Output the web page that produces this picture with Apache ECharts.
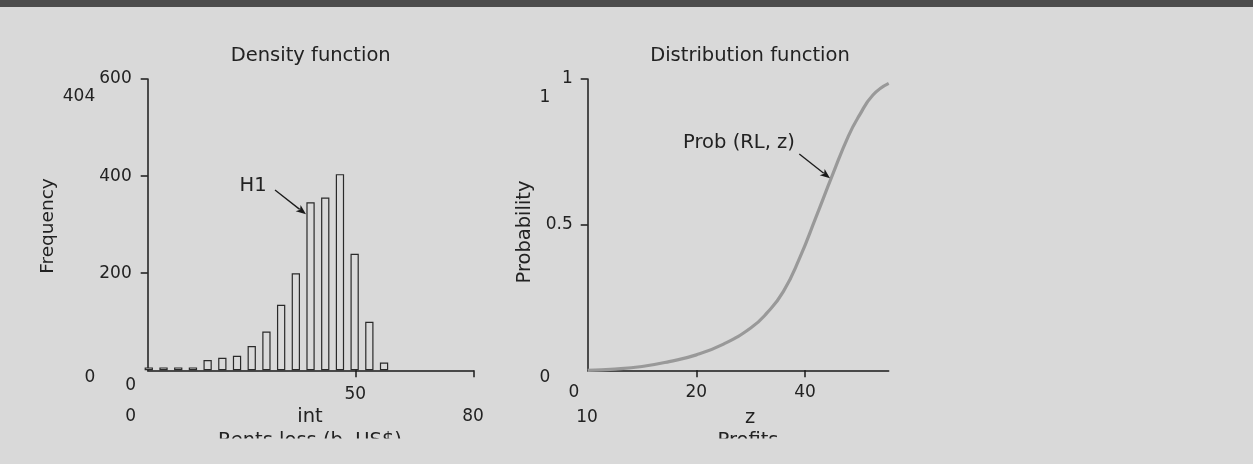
<!DOCTYPE html>
<html>
<head>
<meta charset="utf-8">
<script src="https://cdn.jsdelivr.net/npm/echarts@6/dist/echarts.min.js"></script>
<style>
html,body{margin:0;padding:0;background:#d9d9d9;}
#chart{width:1253px;height:464px;}
</style>
</head>
<body>
<div id="chart"></div>
<script>
// ---- data ----
var binCenters = [0.26, 3.81, 7.35, 10.89, 14.43, 17.97, 21.51, 25.05, 28.59, 32.13, 35.67, 39.21, 42.75, 46.29, 49.83, 53.37, 56.91];
var frequencies = [6, 6, 6, 6, 21, 26, 30, 50, 80, 135, 200, 346, 356, 404, 240, 100, 16];
var freqTicks = [200, 400, 600];
var rentsTicks = [50];
var profitZ = [0, 5, 10, 15, 20, 25, 30, 33, 36, 39, 42, 45, 48, 50, 52.5, 55.4];
var probValues = [0, 0.004, 0.013, 0.030, 0.053, 0.090, 0.145, 0.197, 0.270, 0.385, 0.525, 0.668, 0.805, 0.875, 0.945, 0.985];
var probTicks = [0.5, 1];
var profitTicks = [20, 40];

var FONT = '"DejaVu Sans", sans-serif';
var TXT = '#222222';
var AX = '#1a1a1a';
var FW = 19.5;   // words
var FN = 17;     // numbers

var chart = echarts.init(document.getElementById('chart'), null, {renderer: 'canvas'});

function t(x, y, s, opts) {
  opts = opts || {};
  var fs = opts.fs || (/^[0-9.]+$/.test(s) ? FN : FW);
  return {
    type: 'text', x: x, y: y, rotation: opts.rot || 0, z: 10,
    style: {text: s, fill: TXT, font: fs + 'px ' + FONT,
      align: opts.align || 'center', verticalAlign: 'middle'}
  };
}
function arrow(x1, y1, x2, y2) {
  var dx = x2 - x1, dy = y2 - y1, L = Math.sqrt(dx*dx + dy*dy);
  var ux = dx / L, uy = dy / L, hl = 10, hw = 4;
  var bx = x2 - ux * hl, by = y2 - uy * hl;
  return [
    {type: 'line', z: 10, shape: {x1: x1, y1: y1, x2: bx + ux*2, y2: by + uy*2}, style: {stroke: '#1a1a1a', lineWidth: 1.3}},
    {type: 'polygon', z: 10, shape: {points: [[x2, y2], [bx - uy*hw, by + ux*hw], [bx + ux*2.5, by + uy*2.5], [bx + uy*hw, by - ux*hw]]}, style: {fill: '#1a1a1a'}}
  ];
}

var axisLine = {show: true, lineStyle: {color: AX, width: 1.5}};
var labelStyle = {color: TXT, fontSize: FN, fontFamily: FONT};

var graphics = [
  {type: 'rect', z: 10, shape: {x: 0, y: 0, width: 1253, height: 7}, style: {fill: '#4d4d4d'}},
  t(310.7, 56, 'Density function'),
  t(79, 97, '404'),
  t(253, 186, 'H1'),
  t(48, 226, 'Frequency', {rot: Math.PI / 2, fs: 18.5}),
  t(90, 378, '0'),
  t(130.7, 386, '0'),
  t(130.7, 417, '0'),
  t(310, 417, 'int'),
  t(473, 417, '80'),
  t(310, 441, 'Rents loss (b. US$)'),
  t(750, 56, 'Distribution function'),
  t(545, 98, '1'),
  t(739, 143, 'Prob (RL, z)'),
  t(525, 232, 'Probability', {rot: Math.PI / 2}),
  t(545, 378, '0'),
  t(574, 393, '0'),
  t(587, 418, '10'),
  t(750, 418, 'z'),
  t(748, 441, 'Profits'),
  {type: 'rect', z: 20, shape: {x: 0, y: 438.5, width: 1253, height: 30}, style: {fill: '#d9d9d9'}}
].concat(arrow(275, 190, 306, 214.3)).concat(arrow(799.3, 154, 830, 178.3));

chart.setOption({
  backgroundColor: '#d9d9d9',
  animation: false,
  grid: [
    {left: 147.7, top: 79, width: 325.6, height: 291.3},
    {left: 587.7, top: 79, width: 301, height: 291.3}
  ],
  xAxis: [
    {type: 'value', gridIndex: 0, min: 0, max: 78.4,
      axisLine: axisLine, splitLine: {show: false},
      axisTick: {show: true, length: 7, customValues: rentsTicks.concat([78.4]), lineStyle: {color: AX, width: 1.5}},
      axisLabel: Object.assign({customValues: rentsTicks, margin: 16}, labelStyle)},
    {type: 'value', gridIndex: 1, min: 0, max: 55.4,
      axisLine: axisLine, splitLine: {show: false},
      axisTick: {show: true, length: 7, customValues: profitTicks, lineStyle: {color: AX, width: 1.5}},
      axisLabel: Object.assign({customValues: profitTicks, margin: 14}, labelStyle)}
  ],
  yAxis: [
    {type: 'value', gridIndex: 0, min: 0, max: 600,
      axisLine: axisLine, splitLine: {show: false},
      axisTick: {show: true, length: 7, customValues: freqTicks, lineStyle: {color: AX, width: 1.5}},
      axisLabel: Object.assign({customValues: freqTicks, margin: 16}, labelStyle)},
    {type: 'value', gridIndex: 1, min: 0, max: 1,
      axisLine: axisLine, splitLine: {show: false},
      axisTick: {show: true, length: 7, customValues: probTicks, lineStyle: {color: AX, width: 1.5}},
      axisLabel: Object.assign({customValues: probTicks, margin: 15}, labelStyle)}
  ],
  series: [
    {type: 'bar', xAxisIndex: 0, yAxisIndex: 0, barWidth: 8.3, clip: true,
      data: binCenters.map(function (c, i) { return [c, frequencies[i]]; }),
      itemStyle: {color: '#dadada', borderColor: '#2a2a2a', borderWidth: 1.2}},
    {type: 'line', xAxisIndex: 1, yAxisIndex: 1, smooth: 0.5, symbol: 'none',
      data: profitZ.map(function (z, i) { return [z, probValues[i]]; }),
      lineStyle: {color: '#999999', width: 3.2}}
  ],
  graphic: graphics
});
</script>
</body>
</html>
